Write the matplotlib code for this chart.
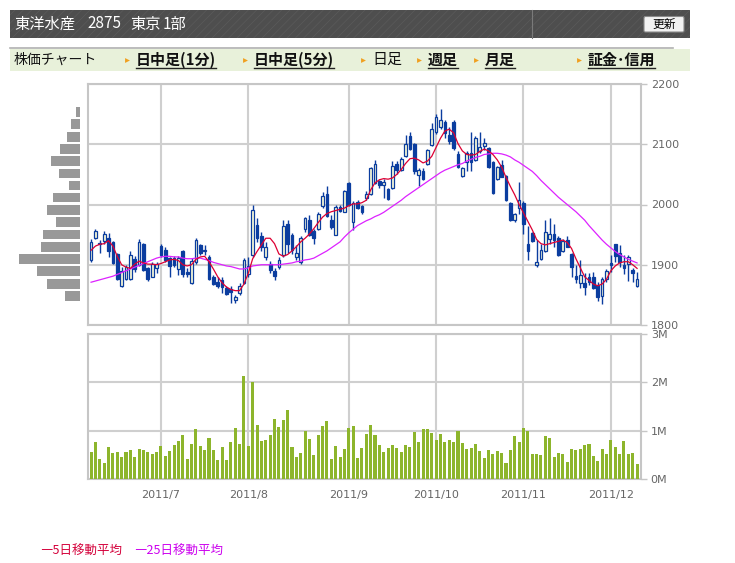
import numpy as np
import matplotlib
matplotlib.use("Agg")
import matplotlib.pyplot as plt
from matplotlib.patches import Rectangle, FancyBboxPatch

# ---------------- data ----------------
opens = [
    1908, 1945, 1935, 1940, 1944, 1938, 1918, 1865, 1876, 1876,
    1910, 1900, 1934, 1894, 1880, 1894, 1931, 1925, 1912, 1911,
    1893, 1922, 1888, 1869, 1905, 1933, 1922, 1913, 1880, 1872,
    1875, 1861, 1860, 1841, 1853, 1869, 1884, 1916, 1966, 1947,
    1913, 1902, 1890, 1897, 1916, 1968, 1950, 1913, 1905, 1960,
    1975, 1956, 1959, 1997, 2017, 1974, 1950, 1996, 1988, 2035,
    1971, 2004, 1997, 2010, 2018, 2035, 2039, 2033, 2026, 2028,
    2067, 2057, 2081, 2114, 2100, 2049, 2056, 2068, 2099, 2120,
    2128, 2137, 2115, 2137, 2084, 2047, 2071, 2085, 2074, 2088,
    2097, 2093, 2070, 2042, 2065, 2047, 2002, 1974, 1994, 2002,
    1935, 1952, 1899, 1909, 1923, 1942, 1951, 1945, 1923, 1941,
    1918, 1881, 1869, 1870, 1880, 1879, 1866, 1848, 1877, 1903,
    1934, 1920, 1900, 1902, 1891, 1864]
closes = [
    1938, 1956, 1936, 1951, 1923, 1903, 1877, 1889, 1897, 1916,
    1893, 1937, 1892, 1877, 1902, 1902, 1916, 1908, 1898, 1900,
    1911, 1884, 1884, 1906, 1941, 1920, 1924, 1876, 1868, 1864,
    1863, 1852, 1855, 1846, 1865, 1908, 1898, 1991, 1944, 1930,
    1930, 1891, 1881, 1908, 1964, 1935, 1924, 1919, 1944, 1977,
    1950, 1944, 1985, 2014, 1981, 1963, 1996, 1989, 2022, 1999,
    2002, 1994, 1987, 2018, 2061, 2068, 2032, 2038, 2009, 2064,
    2057, 2075, 2100, 2092, 2055, 2057, 2043, 2090, 2125, 2146,
    2141, 2118, 2106, 2093, 2063, 2060, 2085, 2071, 2110, 2095,
    2102, 2063, 2019, 2062, 2046, 2007, 1974, 1984, 2008, 1968,
    1923, 1940, 1905, 1925, 1955, 1951, 1941, 1916, 1940, 1930,
    1896, 1876, 1883, 1863, 1872, 1862, 1847, 1877, 1890, 1899,
    1914, 1905, 1894, 1913, 1887, 1876]
highs = [
    1942, 1959, 1941, 1956, 1952, 1940, 1920, 1897, 1899, 1922,
    1914, 1942, 1936, 1897, 1905, 1905, 1934, 1930, 1913, 1914,
    1914, 1924, 1894, 1911, 1945, 1935, 1932, 1916, 1883, 1879,
    1880, 1864, 1864, 1849, 1869, 1912, 1913, 1999, 1977, 1955,
    1938, 1906, 1894, 1913, 1974, 1974, 1952, 1933, 1947, 1980,
    1982, 1960, 1988, 2021, 2030, 1982, 1999, 1999, 2024, 2038,
    2005, 2008, 2000, 2022, 2063, 2074, 2041, 2043, 2027, 2072,
    2072, 2079, 2115, 2121, 2102, 2060, 2060, 2092, 2135, 2151,
    2158, 2141, 2128, 2140, 2088, 2063, 2088, 2121, 2113, 2121,
    2110, 2096, 2073, 2064, 2074, 2049, 2004, 1986, 2038, 2005,
    1964, 1955, 1941, 1934, 1975, 1977, 1967, 1948, 1942, 1947,
    1920, 1899, 1908, 1886, 1887, 1888, 1872, 1880, 1893, 1916,
    1935, 1933, 1916, 1916, 1894, 1888]
lows = [
    1904, 1942, 1919, 1935, 1913, 1902, 1874, 1863, 1874, 1874,
    1888, 1898, 1890, 1873, 1879, 1887, 1913, 1905, 1879, 1897,
    1883, 1880, 1880, 1868, 1902, 1916, 1916, 1875, 1866, 1861,
    1853, 1850, 1836, 1836, 1850, 1868, 1880, 1913, 1938, 1922,
    1908, 1886, 1875, 1893, 1913, 1920, 1918, 1908, 1902, 1955,
    1948, 1934, 1957, 1995, 1979, 1960, 1949, 1987, 1987, 1997,
    1958, 1992, 1984, 2008, 2016, 2034, 2028, 2010, 2007, 2026,
    2050, 2056, 2079, 2090, 2050, 2031, 2040, 2066, 2097, 2117,
    2126, 2111, 2100, 2090, 2060, 2046, 2055, 2055, 2072, 2085,
    2090, 2060, 2017, 2040, 2045, 2006, 1972, 1971, 1985, 1951,
    1908, 1938, 1897, 1908, 1921, 1935, 1930, 1914, 1921, 1929,
    1880, 1870, 1862, 1850, 1866, 1860, 1840, 1835, 1872, 1888,
    1904, 1897, 1884, 1873, 1872, 1863]
ma5 = [
    1924, 1931, 1934, 1935, 1940, 1931, 1914, 1900, 1896, 1894,
    1901, 1906, 1903, 1901, 1901, 1900, 1902, 1905, 1908, 1909,
    1907, 1900, 1898, 1900, 1909, 1913, 1914, 1905, 1893, 1880,
    1870, 1863, 1859, 1857, 1857, 1868, 1886, 1910, 1922, 1933,
    1944, 1944, 1935, 1918, 1914, 1917, 1923, 1930, 1938, 1944,
    1951, 1960, 1970, 1979, 1985, 1988, 1990, 1992, 1994, 1998,
    2001, 2001, 2003, 2007, 2024, 2036, 2041, 2043, 2042, 2044,
    2050, 2058, 2068, 2076, 2077, 2074, 2069, 2072, 2080, 2095,
    2110, 2122, 2125, 2119, 2101, 2089, 2083, 2082, 2083, 2088,
    2092, 2089, 2083, 2074, 2062, 2045, 2030, 2016, 2000, 1986,
    1972, 1958, 1942, 1935, 1933, 1935, 1937, 1939, 1941, 1937,
    1927, 1910, 1895, 1880, 1874, 1868, 1865, 1868, 1876, 1890,
    1898, 1903, 1905, 1905, 1900, 1894]
ma25 = [
    1871, 1873, 1875, 1877, 1879, 1881, 1884, 1887, 1890, 1893,
    1896, 1899, 1902, 1905, 1908, 1911, 1913, 1914, 1914, 1913,
    1913, 1911, 1910, 1910, 1911, 1911, 1909, 1907, 1904, 1902,
    1900, 1898, 1897, 1895, 1893, 1893, 1895, 1898, 1899, 1900,
    1900, 1900, 1900, 1900, 1901, 1902, 1903, 1905, 1906, 1908,
    1909, 1911, 1915, 1919, 1923, 1928, 1933, 1938, 1946, 1953,
    1959, 1965, 1969, 1973, 1976, 1980, 1983, 1987, 1992, 1997,
    2002, 2007, 2013, 2018, 2023, 2028, 2033, 2038, 2043, 2048,
    2053, 2057, 2060, 2063, 2066, 2068, 2072, 2075, 2078, 2080,
    2083, 2084, 2085, 2085, 2084, 2082, 2079, 2074, 2070, 2065,
    2060, 2055, 2048, 2040, 2033, 2026, 2019, 2012, 2006, 2000,
    1994, 1988, 1981, 1974, 1965, 1957, 1949, 1941, 1934, 1928,
    1922, 1917, 1913, 1909, 1906, 1903]
volume_m = [
    0.56, 0.77, 0.42, 0.34, 0.66, 0.54, 0.56, 0.46, 0.56, 0.60,
    0.46, 0.63, 0.60, 0.56, 0.52, 0.56, 0.68, 0.48, 0.58, 0.70,
    0.79, 0.91, 0.42, 0.72, 1.04, 0.68, 0.60, 0.85, 0.60, 0.40,
    0.66, 0.40, 0.77, 1.06, 0.72, 2.14, 0.68, 2.01, 1.12, 0.79,
    0.81, 0.91, 1.24, 1.08, 1.22, 1.43, 0.66, 0.46, 0.54, 1.00,
    0.83, 0.50, 0.91, 1.10, 1.21, 0.42, 0.68, 0.46, 0.62, 1.06,
    1.10, 0.44, 0.64, 0.93, 1.12, 0.91, 0.70, 0.56, 0.64, 0.70,
    0.64, 0.56, 0.70, 0.66, 0.98, 0.77, 1.04, 1.04, 0.96, 0.81,
    0.93, 0.77, 0.81, 0.77, 1.00, 0.74, 0.63, 0.65, 0.73, 0.58,
    0.44, 0.61, 0.52, 0.57, 0.54, 0.34, 0.61, 0.90, 0.77, 1.06,
    1.00, 0.52, 0.52, 0.50, 0.88, 0.85, 0.46, 0.54, 0.52, 0.36,
    0.63, 0.61, 0.63, 0.70, 0.73, 0.48, 0.38, 0.63, 0.52, 0.81,
    0.67, 0.52, 0.79, 0.52, 0.54, 0.32]

month_start_idx = [16, 36, 59, 79, 99, 119]
month_labels = ["2011/7", "2011/8", "2011/9", "2011/10", "2011/11", "2011/12"]
price_ticks = [1800, 1900, 2000, 2100, 2200]
vol_ticks = [0, 1, 2, 3]
vol_tick_labels = ["0M", "1M", "2M", "3M"]

# price-by-volume histogram (bin lower edge, relative volume)
pbv_bins = [1840, 1860, 1881, 1901, 1921, 1942, 1962, 1982,
            2003, 2023, 2043, 2064, 2084, 2104, 2125, 2145]
pbv_vol = [15, 33, 43, 61, 39, 37, 24, 33, 27, 11, 21, 29, 20, 13, 9, 4]

title_parts = [("東洋水産", 14), ("2875", 87), ("東京", 130), ("1部", 163)]
tab_plain = [("株価チャート", 14)]
tab_items = [("日中足(1分)", 136, True), ("日中足(5分)", 254, True),
             ("日足", 372, False), ("週足", 428, True),
             ("月足", 485, True), ("証金･信用", 588, True)]

# ---------------- figure ----------------
W, H = 735, 563
fig = plt.figure(figsize=(W / 100, H / 100), dpi=100)
fig.patch.set_facecolor("white")
JP = ["Noto Sans CJK JP", "DejaVu Sans"]

def rect(x0, y0, x1, y1):
    return [x0 / W, 1 - y1 / H, (x1 - x0) / W, (y1 - y0) / H]

# overlay for page decorations
ov = fig.add_axes([0, 0, 1, 1])
ov.set_xlim(0, W)
ov.set_ylim(H, 0)
ov.axis("off")

# header bar
plt.rcParams["hatch.linewidth"] = 0.6
ov.add_patch(Rectangle((10, 10), 680, 28, facecolor="#4e4e4e",
                       edgecolor="#595959", lw=0, hatch="////"))
ov.plot([532, 532], [10, 38], color="#7a7a7a", lw=0.8)
for txt, x0 in title_parts:
    ov.text(x0, 24, txt, family=JP, fontsize=11, color="white",
            va="center", ha="left")
ov.add_patch(FancyBboxPatch((644, 16.5), 40, 15.5,
                            boxstyle="round,pad=0,rounding_size=1.5",
                            facecolor="#f2f2f2", edgecolor="#8a8a8a", lw=0.8))
ov.text(664, 24.5, "更新", family=JP, fontsize=8.5, color="black",
        va="center", ha="center")

# tab bar
ov.add_patch(Rectangle((10, 49), 680, 22, facecolor="#e8f1da", lw=0))
ov.plot([10, 673], [48, 48], color="#b0b0b0", lw=1.2)
for txt, x0 in tab_plain:
    ov.text(x0, 60, txt, family=JP, fontsize=10, color="#111111",
            va="center", ha="left")
fig.canvas.draw()
for txt, x0, link in tab_items:
    ov.plot([x0 - 9], [60], marker=">", markersize=3.5, color="#f0a020",
            markeredgewidth=0)
    t = ov.text(x0, 60, txt, family=JP, fontsize=10.8, color="#111111",
                va="center", ha="left",
                fontweight="bold" if link else "normal")
    if link:
        bb = t.get_window_extent(renderer=fig.canvas.get_renderer())
        ov.plot([x0, x0 + bb.width], [68, 68], color="#222222", lw=1.0)

# ---------------- price axes ----------------
n = len(closes)
x = np.arange(n)
O = np.array(opens, float)
C = np.array(closes, float)
Hh = np.array(highs, float)
L = np.array(lows, float)
up = C >= O

BLUE = "#0b3d9f"
PALE = "#fbfbd8"
GRID = "#cfcfcf"
SPINE = "#c6c6c6"
LAB = "#666666"

axp = fig.add_axes(rect(88, 84, 641, 325))
axp.set_xlim(-0.7, 125.9)
axp.set_ylim(1800, 2200)
axp.vlines(x, L, Hh, color=BLUE, lw=1.0, zorder=3)
body_h = np.maximum(np.abs(C - O), 0.8)
axp.bar(x, body_h, bottom=np.minimum(O, C), width=0.62,
        color=np.where(up, PALE, BLUE), edgecolor=BLUE, lw=0.9, zorder=4)
axp.plot(x, ma25, color="#dd22ff", lw=0.9, zorder=5)
axp.plot(x, ma5, color="#dd0033", lw=0.9, zorder=6)

axp.set_xticks(month_start_idx)
axp.set_yticks(price_ticks)
axp.yaxis.tick_right()
axp.tick_params(axis="x", length=0, labelbottom=False)
axp.tick_params(axis="y", length=4, width=1, color=SPINE, labelcolor=LAB,
                labelsize=8, pad=3)
axp.grid(True, color=GRID, lw=1.5, zorder=0)
axp.set_axisbelow(True)
for s in axp.spines.values():
    s.set_color(SPINE)
    s.set_linewidth(1.5)

# ---------------- volume axes ----------------
axv = fig.add_axes(rect(88, 334, 641, 479))
axv.set_xlim(-0.7, 125.9)
axv.set_ylim(0, 3)
axv.bar(x, volume_m, width=0.7, color="#8db52c", lw=0, zorder=3)
axv.set_xticks(month_start_idx)
axv.set_xticklabels(month_labels)
axv.set_yticks(vol_ticks)
axv.set_yticklabels(vol_tick_labels)
axv.yaxis.tick_right()
axv.tick_params(axis="x", length=0, labelcolor=LAB, labelsize=8, pad=8)
axv.tick_params(axis="y", length=4, width=1, color=SPINE, labelcolor=LAB,
                labelsize=8, pad=3)
axv.grid(True, color=GRID, lw=1.5, zorder=0)
axv.set_axisbelow(True)
for s in axv.spines.values():
    s.set_color(SPINE)
    s.set_linewidth(1.5)

# ---------------- price-by-volume ----------------
axh = fig.add_axes(rect(0, 84, 80, 325))
axh.set_ylim(1800, 2200)
axh.set_xlim(max(pbv_vol) * 80 / 61, 0)
axh.barh(np.array(pbv_bins) + 0.5, pbv_vol, height=16, align="edge",
         color="#999999", lw=0)
axh.axis("off")

# ---------------- legend ----------------
ov.text(40, 551, "―5日移動平均", family=JP, fontsize=9, color="#d4003a",
        va="center", ha="left")
ov.text(134, 551, "―25日移動平均", family=JP, fontsize=9, color="#cc00ee",
        va="center", ha="left")

fig.savefig("out.png", dpi=100)
